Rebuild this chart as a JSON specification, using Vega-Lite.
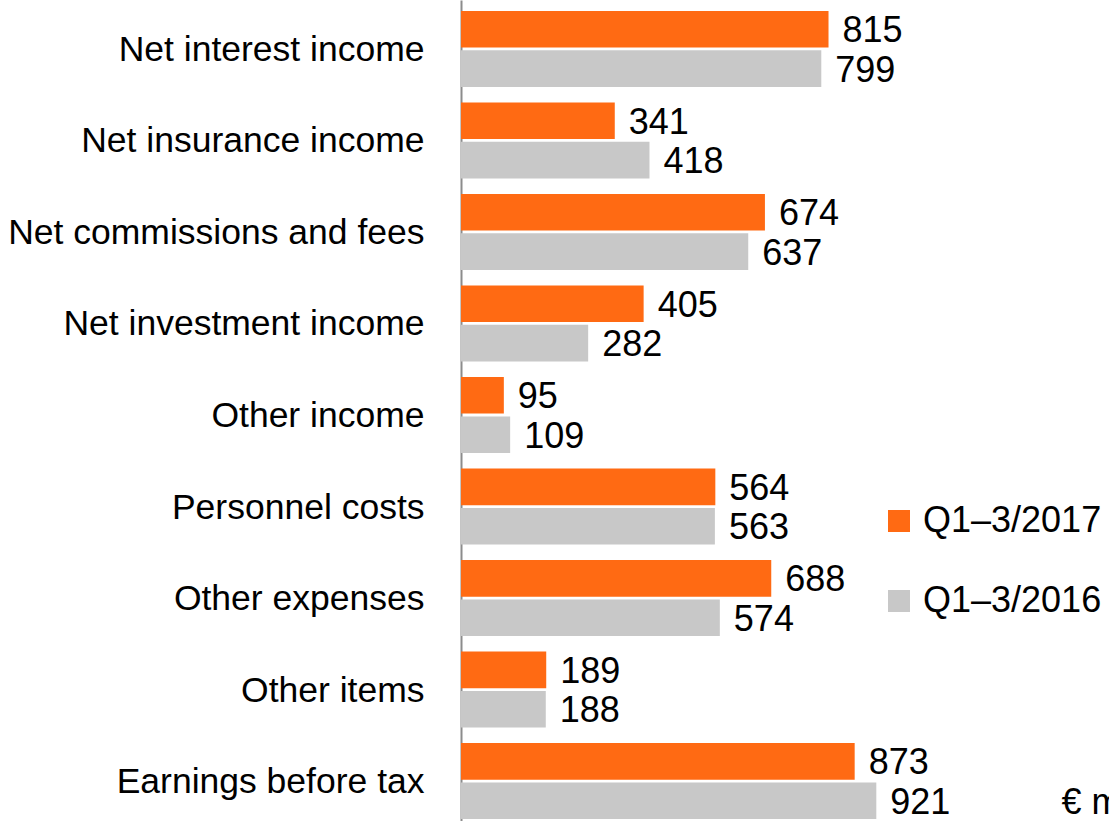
{
  "$schema": "https://vega.github.io/schema/vega-lite/v6.json",
  "autosize": {"type": "none"},
  "padding": {"left": 461, "top": 0, "right": 0, "bottom": 0},
  "width": 648,
  "height": 830,
  "background": "white",
  "config": {"view": {"stroke": null}, "font": "Liberation Sans"},
  "data": {"values": [
    {"item": "Net interest income", "period": "Q1–3/2017", "value": 815},
    {"item": "Net interest income", "period": "Q1–3/2016", "value": 799},
    {"item": "Net insurance income", "period": "Q1–3/2017", "value": 341},
    {"item": "Net insurance income", "period": "Q1–3/2016", "value": 418},
    {"item": "Net commissions and fees", "period": "Q1–3/2017", "value": 674},
    {"item": "Net commissions and fees", "period": "Q1–3/2016", "value": 637},
    {"item": "Net investment income", "period": "Q1–3/2017", "value": 405},
    {"item": "Net investment income", "period": "Q1–3/2016", "value": 282},
    {"item": "Other income", "period": "Q1–3/2017", "value": 95},
    {"item": "Other income", "period": "Q1–3/2016", "value": 109},
    {"item": "Personnel costs", "period": "Q1–3/2017", "value": 564},
    {"item": "Personnel costs", "period": "Q1–3/2016", "value": 563},
    {"item": "Other expenses", "period": "Q1–3/2017", "value": 688},
    {"item": "Other expenses", "period": "Q1–3/2016", "value": 574},
    {"item": "Other items", "period": "Q1–3/2017", "value": 189},
    {"item": "Other items", "period": "Q1–3/2016", "value": 188},
    {"item": "Earnings before tax", "period": "Q1–3/2017", "value": 873},
    {"item": "Earnings before tax", "period": "Q1–3/2016", "value": 921}
  ]},
  "encoding": {
    "y": {
      "field": "item", "type": "nominal", "sort": null,
      "scale": {"paddingInner": 0.17, "paddingOuter": 0.12},
      "axis": {
        "title": null, "ticks": false, "grid": false,
        "domainColor": "#8c8c8c", "domainWidth": 2,
        "labelFontSize": 35.5, "labelColor": "#000000", "labelPadding": 37,
        "labelLimit": 0, "labelBaseline": "middle", "labelOffset": 1
      }
    },
    "yOffset": {
      "field": "period", "type": "nominal",
      "sort": ["Q1–3/2017", "Q1–3/2016"],
      "scale": {"paddingInner": 0.07}
    },
    "x": {
      "field": "value", "type": "quantitative",
      "scale": {"domain": [0, 1437], "nice": false, "zero": true},
      "axis": {
        "domain": false, "ticks": false, "labels": false, "grid": false,
        "title": "€ m", "titleFontSize": 36, "titleFontWeight": "normal",
        "titleColor": "#000000", "titleAnchor": "start", "titleAlign": "left",
        "titleX": 600, "titleY": -17, "titleBaseline": "alphabetic"
      }
    }
  },
  "layer": [
    {
      "mark": {"type": "bar"},
      "encoding": {
        "color": {
          "field": "period", "type": "nominal",
          "scale": {"domain": ["Q1–3/2017", "Q1–3/2016"], "range": ["#FF6A13", "#C8C8C8"]},
          "legend": {
            "title": null, "orient": "none", "legendX": 420, "legendY": 503,
            "symbolType": "square", "symbolSize": 484, "symbolStrokeWidth": 0,
            "labelFontSize": 36, "labelColor": "#000000", "labelOffset": 6,
            "labelLimit": 0, "rowPadding": 44
          }
        }
      }
    },
    {
      "mark": {"type": "text", "align": "left", "baseline": "middle", "dx": 14, "dy": 2, "fontSize": 36, "color": "#000000"},
      "encoding": {"text": {"field": "value", "type": "quantitative"}}
    }
  ]
}
